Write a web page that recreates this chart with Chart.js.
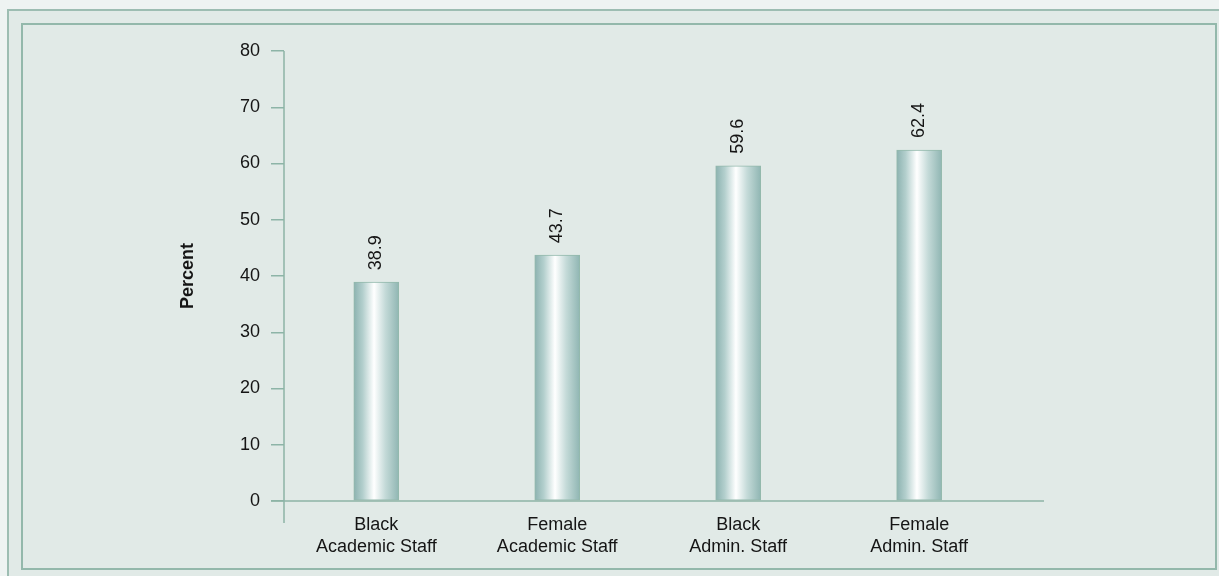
<!DOCTYPE html>
<html>
<head>
<meta charset="utf-8">
<script src="https://cdn.jsdelivr.net/npm/chart.js@4.4.1/dist/chart.umd.min.js"></script>
<style>
    html, body { margin: 0; padding: 0; }
    body { width: 1219px; height: 576px; background: #eef3f2; position: relative; overflow: hidden; font-family: "Liberation Sans", Arial, sans-serif; }
    .outer { position: absolute; left: 7px; top: 9px; width: 1300px; height: 700px; border-left: 2px solid #9dbdb2; border-top: 2px solid #9dbdb2; background: #e1eae7; }
    .inner { position: absolute; left: 21px; top: 23px; width: 1192px; height: 543px; border: 2px solid #93b8ab; background: #e1eae7; }
    #chart_wrap { position: absolute; left: 0; top: 0; width: 1219px; height: 576px; }
</style>
</head>
<body>
<div class="outer"></div>
<div class="inner"></div>
<div id="chart_wrap"><canvas id="staff_graph"></canvas></div>
<script>
const categories = [['Black', 'Academic Staff'], ['Female', 'Academic Staff'], ['Black', 'Admin. Staff'], ['Female', 'Admin. Staff']];
const percents = [38.9, 43.7, 59.6, 62.4];
const yTicks = [0, 10, 20, 30, 40, 50, 60, 70, 80];

const axisColor = '#8db4a7';
const textColor = '#151515';
const fontFamily = '"Liberation Sans", Arial, sans-serif';

// axis lines run past the plot like the original
const axisLines = {
    id: 'axisLines',
    afterDraw: function (chart) {
        const ctx = chart.ctx;
        const area = chart.chartArea;
        const y0 = chart.scales.y.getPixelForValue(0);
        ctx.save();
        ctx.strokeStyle = axisColor;
        ctx.lineWidth = 1.5;
        ctx.beginPath();
        ctx.moveTo(area.left, area.top);
        ctx.lineTo(area.left, y0 + 22);
        ctx.moveTo(area.left - 13, y0);
        ctx.lineTo(area.right, y0);
        ctx.stroke();
        ctx.restore();
    }
};

// rotated value labels above the bars
const valueLabels = {
    id: 'valueLabels',
    afterDatasetsDraw: function (chart) {
        const ctx = chart.ctx;
        const meta = chart.getDatasetMeta(0);
        ctx.save();
        ctx.fillStyle = textColor;
        ctx.font = '18px ' + fontFamily;
        ctx.textAlign = 'left';
        ctx.textBaseline = 'middle';
        meta.data.forEach(function (bar, i) {
            ctx.save();
            ctx.translate(bar.x, bar.y - 12);
            ctx.rotate(-Math.PI / 2);
            ctx.fillText(percents[i].toFixed(1), 0, 0);
            ctx.restore();
        });
        ctx.restore();
    }
};

function barGradient(context) {
    const chart = context.chart;
    if (!chart.chartArea) {
        return '#b8d0ce';
    }
    const x = chart.scales.x.getPixelForValue(context.dataIndex);
    const g = chart.ctx.createLinearGradient(x - 22.5, 0, x + 22.5, 0);
    g.addColorStop(0, '#8cb2b0');
    g.addColorStop(0.2, '#b3cfcd');
    g.addColorStop(0.45, '#ffffff');
    g.addColorStop(0.7, '#c4dad8');
    g.addColorStop(1, '#90b6b3');
    return g;
}

new Chart(document.getElementById('staff_graph'), {
    type: 'bar',
    data: {
        datasets: [{
            data: percents.map(function (v, i) {
                return { x: i, y: v };
            }),
            backgroundColor: barGradient,
            borderColor: '#93b9ac',
            borderWidth: 1,
            borderSkipped: false,
            barThickness: 45,
        }]
    },
    plugins: [axisLines, valueLabels],
    options: {
        responsive: true,
        maintainAspectRatio: false,
        animation: false,
        layout: {
            padding: { top: 51, right: 175, bottom: 0, left: 0 }
        },
        plugins: {
            legend: { display: false },
            tooltip: { enabled: false }
        },
        scales: {
            x: {
                type: 'linear',
                min: -0.51,
                max: 3.69,
                offset: false,
                afterBuildTicks: function (scale) {
                    scale.ticks = categories.map(function (c, i) {
                        return { value: i };
                    });
                },
                afterFit: function (scale) {
                    scale.height = 75;
                },
                border: { display: false },
                grid: { display: false, drawTicks: false },
                ticks: {
                    padding: 14,
                    color: textColor,
                    font: { size: 18, family: fontFamily, lineHeight: 1.17 },
                    maxRotation: 0,
                    autoSkip: false,
                    callback: function (value) {
                        return categories[value];
                    }
                }
            },
            y: {
                min: yTicks[0],
                max: yTicks[yTicks.length - 1],
                afterBuildTicks: function (scale) {
                    scale.ticks = yTicks.map(function (v) {
                        return { value: v };
                    });
                },
                afterFit: function (scale) {
                    scale.width = 284;
                },
                border: { display: false },
                grid: {
                    drawOnChartArea: false,
                    drawTicks: true,
                    tickLength: 13,
                    color: axisColor,
                    lineWidth: 1.5
                },
                ticks: {
                    padding: 11,
                    color: textColor,
                    font: { size: 18, family: fontFamily }
                },
                title: {
                    display: true,
                    text: 'Percent',
                    color: textColor,
                    font: { size: 18, weight: 'bold', family: fontFamily },
                    padding: { top: 177, bottom: 0 }
                }
            }
        }
    }
});
</script>
</body>
</html>
